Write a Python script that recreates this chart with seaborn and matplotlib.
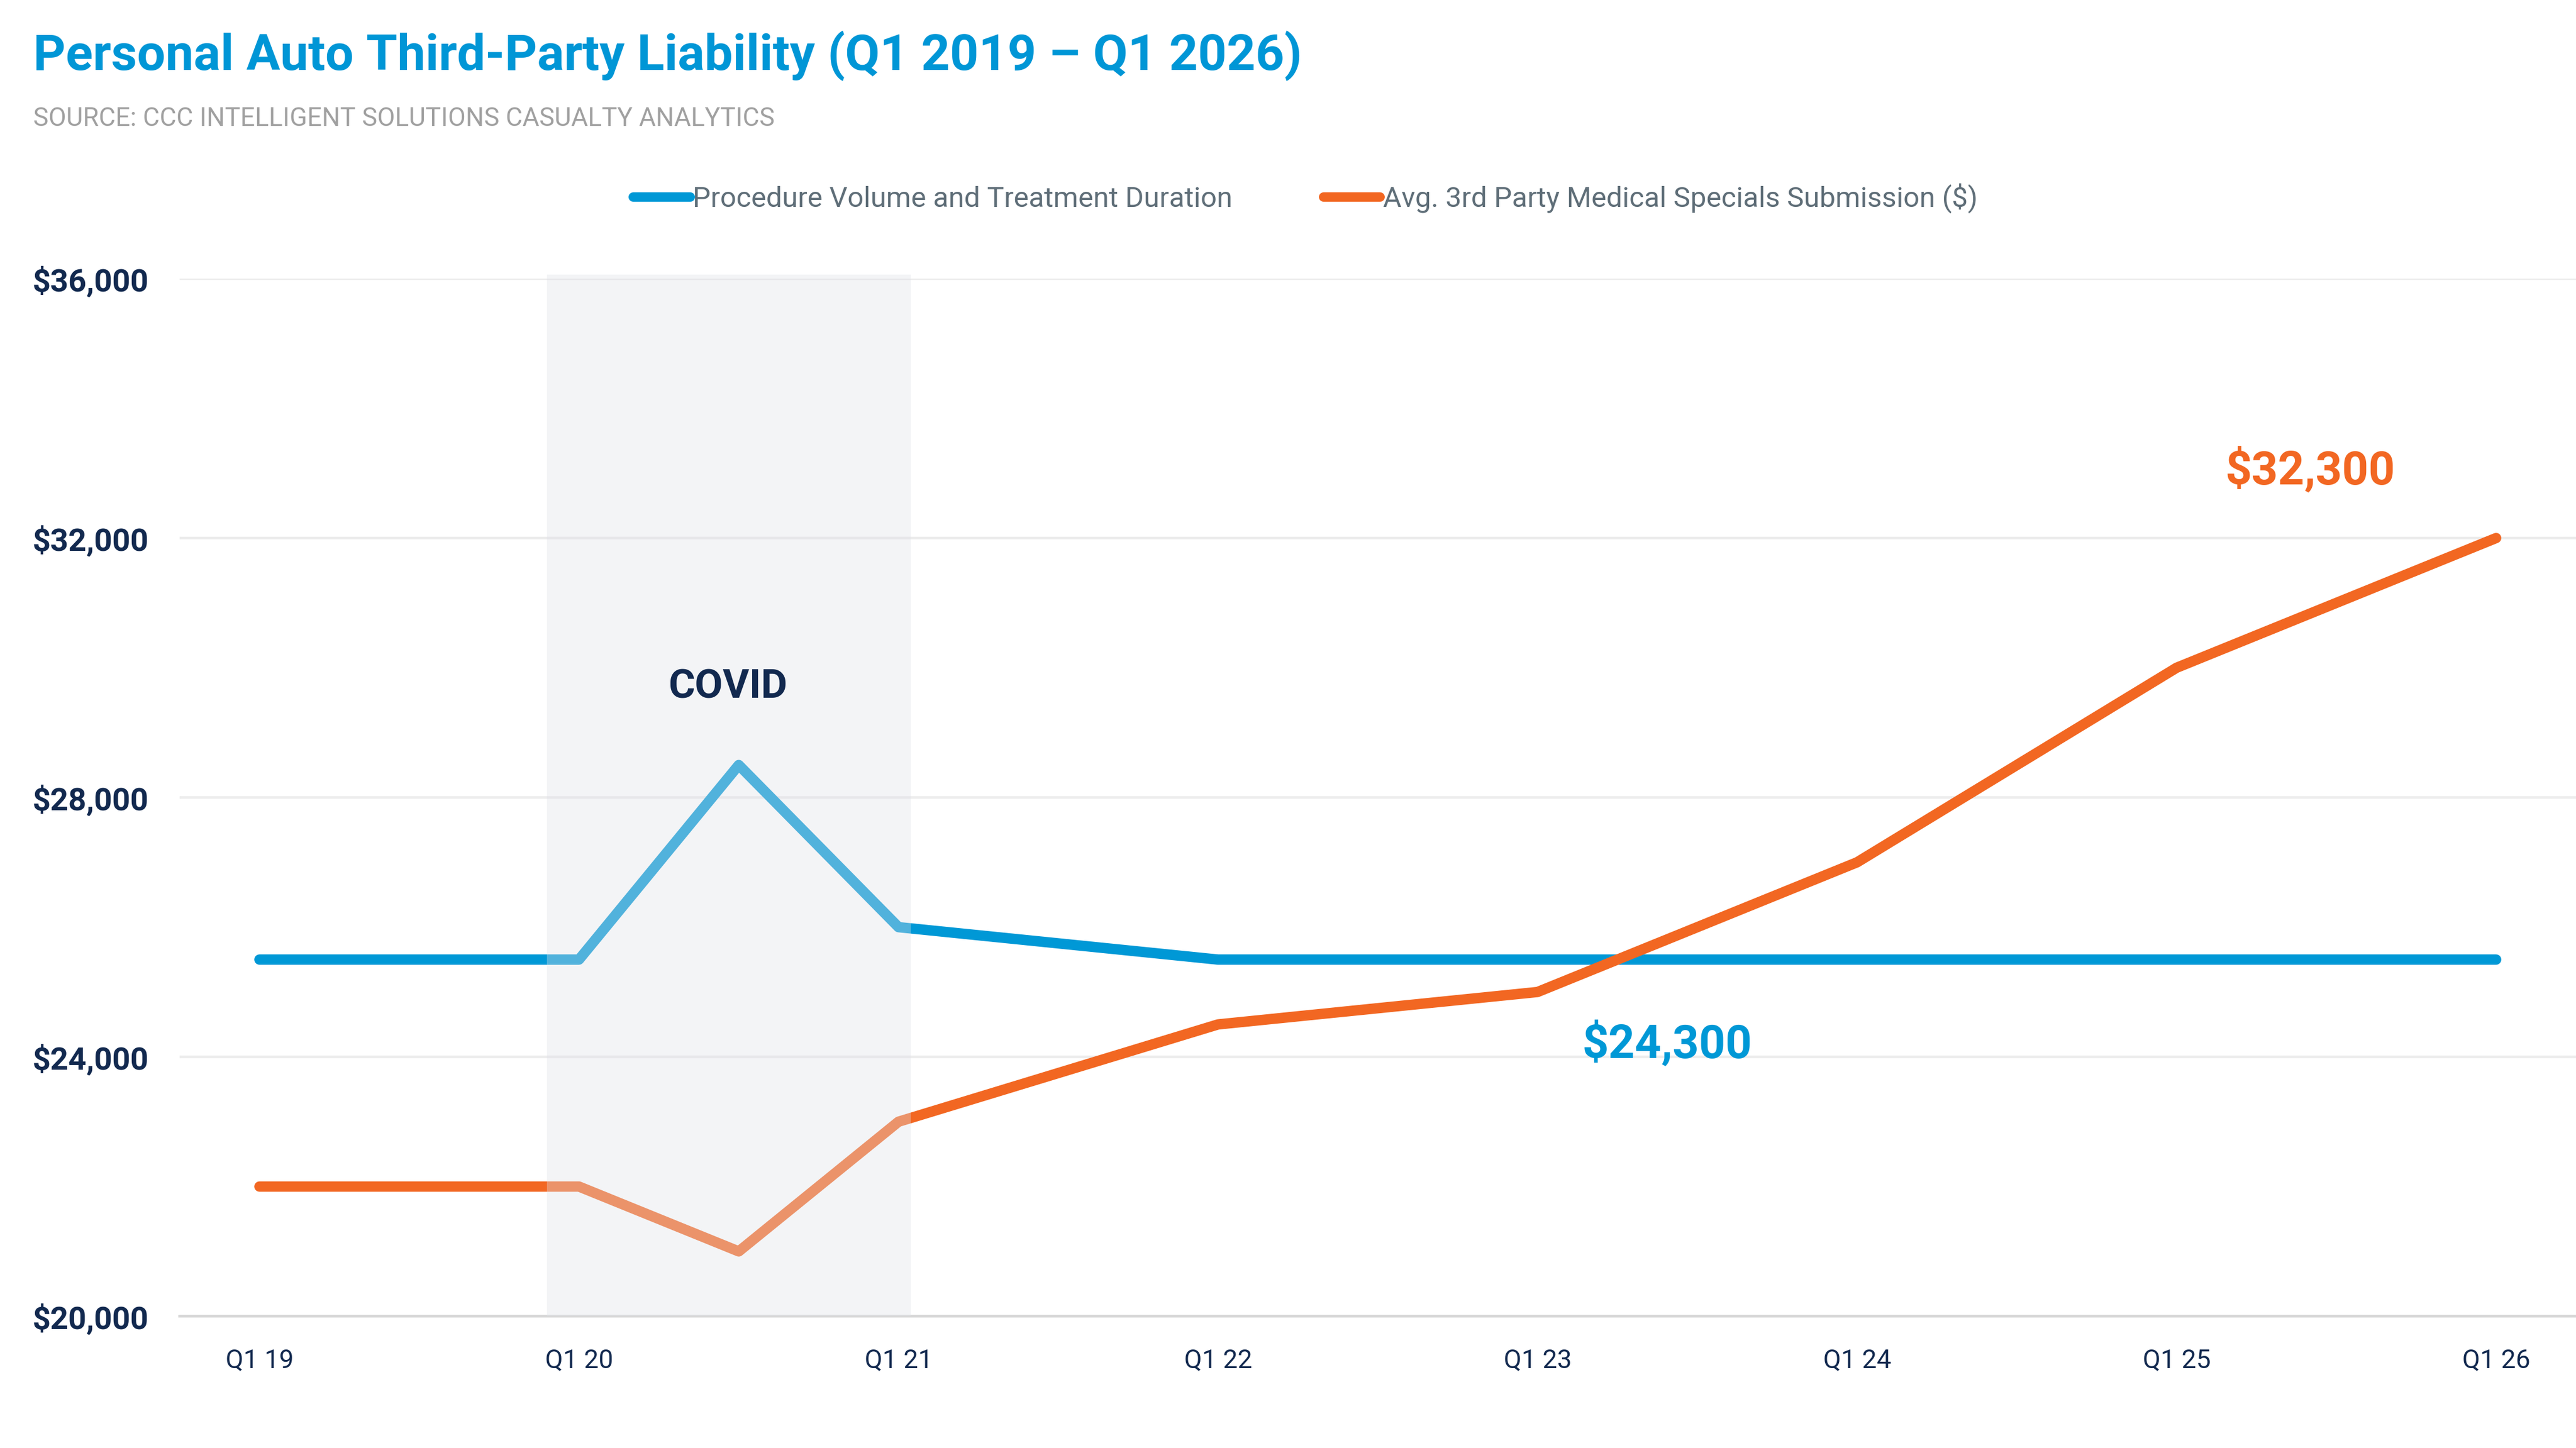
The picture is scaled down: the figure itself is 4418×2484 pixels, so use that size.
import matplotlib
matplotlib.use("Agg")
import matplotlib.pyplot as plt
import seaborn as sns
import pandas as pd

# ---------------- data ----------------
quarter_index = [0, 4, 6, 8, 12, 16, 20, 24, 28]  # quarters since Q1 2019
procedure_volume = [25500, 25500, 28500, 26000, 25500, 25500, 25500, 25500, 25500]
medical_specials = [22000, 22000, 21000, 23000, 24500, 25000, 27000, 30000, 32000]
series_names = ["Procedure Volume and Treatment Duration",
                "Avg. 3rd Party Medical Specials Submission ($)"]
tick_quarters = [0, 4, 8, 12, 16, 20, 24, 28]
tick_labels = ["Q1 19", "Q1 20", "Q1 21", "Q1 22", "Q1 23", "Q1 24", "Q1 25", "Q1 26"]
y_ticks = [20000, 24000, 28000, 32000, 36000]
covid_start, covid_end = 3.6, 8.15
callout_blue = "$24,300"
callout_orange = "$32,300"

BLUE = "#0098D6"
ORANGE = "#F26722"
NAVY = "#12294F"

df = pd.DataFrame({
    "quarter": quarter_index * 2,
    "value": procedure_volume + medical_specials,
    "series": [series_names[0]] * len(quarter_index) + [series_names[1]] * len(quarter_index),
})

sns.set_theme(style="white")
plt.rcParams["font.family"] = ["Roboto", "DejaVu Sans"]

W, H, DPI = 4418, 2484, 200
fig = plt.figure(figsize=(W / DPI, H / DPI), dpi=DPI)
fig.patch.set_facecolor("white")
ax = fig.add_axes([308 / W, 1 - 2258 / H, 1 - 308 / W, (2258 - 478) / H])

sns.lineplot(data=df, x="quarter", y="value", hue="series", hue_order=series_names,
             palette=[BLUE, ORANGE], linewidth=6.4, ax=ax, legend=True, zorder=3)
for ln in ax.get_lines():
    ln.set_solid_capstyle("round")
    ln.set_solid_joinstyle("round")

ax.set_xlim(-1, 29)
ax.set_ylim(20000, 36000)
ax.set_yticks(y_ticks)
ax.set_yticklabels([f"${v:,.0f}" for v in y_ticks])
ax.set_xticks(tick_quarters)
ax.set_xticklabels(tick_labels)
ax.set_xlabel("")
ax.set_ylabel("")
ax.tick_params(axis="y", length=0, pad=19, labelsize=19.5, labelcolor=NAVY)
ax.tick_params(axis="x", length=0, pad=20, labelsize=16, labelcolor=NAVY)
for lab in ax.get_yticklabels():
    lab.set_fontweight("bold")

ax.grid(axis="y", color="#ececec", linewidth=1.6, zorder=0)
ax.grid(axis="x", visible=False)
ax.set_axisbelow(True)
for side in ["top", "right", "left"]:
    ax.spines[side].set_visible(False)
ax.spines["bottom"].set_color("#d6d6d6")
ax.spines["bottom"].set_linewidth(1.6)

# COVID shading on top of lines
ax.axvspan(covid_start, covid_end, ymin=0, ymax=1.004, color="#e0e1e8", alpha=0.365,
           lw=0, zorder=5, clip_on=False)

ax.text(5.86, 29700, "COVID", ha="center", va="center", fontsize=25,
        fontweight="bold", color=NAVY, zorder=10)
ax.text(25.67, 33050, callout_orange, ha="center", va="center", fontsize=28.5,
        fontweight="bold", color=ORANGE, zorder=10)
ax.text(17.62, 24207, callout_blue, ha="center", va="center", fontsize=28.5,
        fontweight="bold", color=BLUE, zorder=10)

# legend
handles, labels = ax.get_legend_handles_labels()
ax.get_legend().remove()
leg = fig.legend(handles, labels, loc="center", bbox_to_anchor=(2239 / W, 1 - 340 / H),
                 ncol=2, frameon=False, fontsize=17.5, handlelength=2.0,
                 handletextpad=0.1, columnspacing=3.2, labelcolor="#5f6e78")
for ln in leg.get_lines():
    ln.set_solid_capstyle("round")
    ln.set_linewidth(5.8)

# title & subtitle
fig.text(57 / W, 1 - 96 / H, "Personal Auto Third-Party Liability (Q1 2019 \u2013 Q1 2026)",
         ha="left", va="center", fontsize=31, fontweight="bold", color="#0096D6")
fig.text(57 / W, 1 - 204 / H, "SOURCE: CCC INTELLIGENT SOLUTIONS CASUALTY ANALYTICS",
         ha="left", va="center", fontsize=15.9, color="#a0a0a0")

fig.savefig("out.png", dpi=DPI, facecolor="white")
